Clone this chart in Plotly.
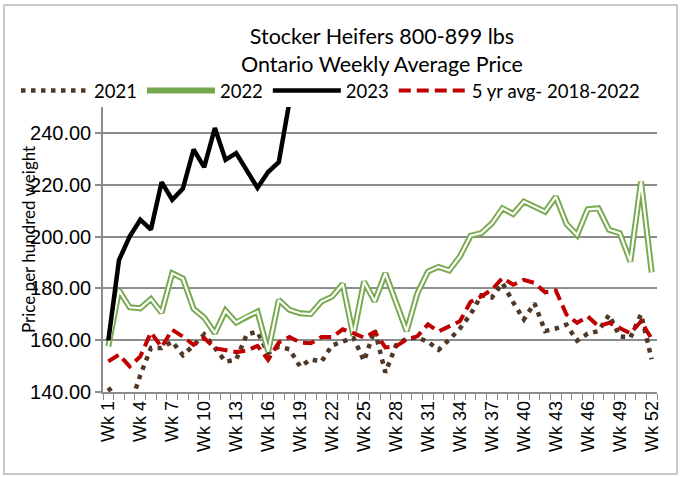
import plotly.graph_objects as go

weeks = list(range(1, 53))
tick_weeks = [1, 4, 7, 10, 13, 16, 19, 22, 25, 28, 31, 34, 37, 40, 43, 46, 49, 52]
tick_labels = ["Wk 1", "Wk 4", "Wk 7", "Wk 10", "Wk 13", "Wk 16", "Wk 19", "Wk 22", "Wk 25",
               "Wk 28", "Wk 31", "Wk 34", "Wk 37", "Wk 40", "Wk 43", "Wk 46", "Wk 49", "Wk 52"]
y_ticks = [140, 160, 180, 200, 220, 240]

price_2021 = [141.7, 136.0, 134.0, 146.5, 157.0, 157.0, 159.5, 154.2, 158.0, 162.2,
              157.0, 151.7, 152.5, 162.3, 163.2, 155.0, 157.5, 156.5, 149.8, 152.6,
              151.7, 158.0, 159.5, 161.0, 152.0, 164.0, 147.5, 158.0, 160.6, 161.0,
              159.4, 156.3, 160.2, 164.5, 170.0, 177.3, 176.5, 182.0, 174.6, 168.0,
              174.2, 163.5, 164.5, 166.0, 159.8, 162.5, 163.5, 169.8, 161.5, 161.0,
              170.0, 152.6]
price_2022 = [157.6, 179.2, 172.7, 172.3, 175.9, 170.6, 185.8, 183.8, 172.1, 168.7,
              162.7, 171.4, 166.8, 169.1, 171.0, 155.6, 175.5, 171.7, 170.4, 170.1,
              174.9, 176.8, 181.7, 161.7, 182.6, 175.0, 185.8, 174.7, 163.5, 178.0,
              186.5, 188.3, 186.9, 192.3, 200.3, 201.3, 205.0, 210.9, 208.7, 213.5,
              211.5, 209.6, 215.4, 204.9, 200.6, 210.5, 210.9, 202.6, 201.3, 190.4,
              221.2, 186.2]
price_2023 = [159.9, 190.9, 200.0, 206.5, 202.7, 221.0, 214.2, 218.5, 233.6, 226.8,
              241.9, 229.6, 232.2, 225.5, 218.8, 224.9, 228.7, 252.0]
avg_5yr = [151.8, 154.4, 149.9, 153.7, 163.0, 157.3, 164.0, 161.4, 158.2, 160.8,
           156.9, 156.3, 155.4, 156.0, 157.8, 152.4, 159.1, 161.2, 159.1, 158.8,
           161.2, 161.2, 164.2, 162.7, 161.0, 163.2, 157.2, 157.6, 160.3, 161.5,
           166.1, 163.4, 165.2, 167.3, 174.8, 176.9, 179.5, 184.0, 181.4, 183.3,
           182.1, 178.5, 179.2, 169.9, 166.7, 169.2, 165.4, 166.7, 164.7, 162.6,
           167.3, 160.5]

W, H = 687, 477
ML, MR, MT, MB = 103, 30, 107, 85
PW, PH = W - ML - MR, H - MT - MB


def px_x(p):
    return (p - ML) / PW


def px_y(p):
    return (H - MB - p) / PH


GRID = "#8c8c8c"
fig = go.Figure()
fig.add_trace(go.Scatter(x=weeks, y=price_2021, mode="lines", name="2021",
                         line=dict(color="#4f3828", width=4.5, dash="4.5px,5.5px")))
fig.add_trace(go.Scatter(x=weeks, y=price_2022, mode="lines", name="2022",
                         line=dict(color="#76a94e", width=6)))
fig.add_trace(go.Scatter(x=weeks, y=price_2022, mode="lines", name="2022 inner",
                         showlegend=False, hoverinfo="skip",
                         line=dict(color="white", width=2.2)))
fig.add_trace(go.Scatter(x=weeks[:len(price_2023)], y=price_2023, mode="lines", name="2023",
                         line=dict(color="black", width=4.5)))
fig.add_trace(go.Scatter(x=weeks, y=avg_5yr, mode="lines", name="5 yr avg- 2018-2022",
                         line=dict(color="#c00000", width=4, dash="12px,6px")))

title_font = dict(family="Lato", size=21.5, color="black")
fig.update_layout(
    width=W, height=H,
    margin=dict(l=ML, r=MR, t=MT, b=MB, autoexpand=False),
    paper_bgcolor="white", plot_bgcolor="white",
    legend=dict(orientation="h", x=px_x(16), xanchor="left", y=px_y(91), yanchor="middle",
                font=dict(family="Lato", size=18.5, color="black"), itemwidth=68,
                bgcolor="rgba(0,0,0,0)", tracegroupgap=0),
    xaxis=dict(range=[0.5, 52.5], tickmode="array", tickvals=tick_weeks, ticktext=tick_labels,
               tickangle=-90, ticks="", showgrid=False, zeroline=False,
               showline=True, linecolor=GRID, linewidth=1.6,
               tickfont=dict(family="Liberation Sans", size=18, color="black"),
               minor=dict(ticks="outside", tick0=0.5, dtick=1, ticklen=6, tickcolor=GRID,
                          tickwidth=1.3, showgrid=False)),
    yaxis=dict(range=[140, 250], tickmode="array", tickvals=y_ticks, tickformat=".2f",
               ticks="outside", ticklen=6, tickcolor=GRID, tickwidth=1.5,
               showgrid=True, gridcolor=GRID, gridwidth=1.6, zeroline=False,
               showline=True, linecolor=GRID, linewidth=1.6,
               tickfont=dict(family="Liberation Sans", size=20, color="black")),
    annotations=[
        dict(text="Stocker Heifers 800-899 lbs<br>Ontario Weekly Average Price",
             showarrow=False, xref="paper", yref="paper",
             x=px_x(382), y=px_y(50), xanchor="center", yanchor="middle", font=title_font),
        dict(text="Price per hundred weight", textangle=-90, showarrow=False,
             xref="paper", yref="paper", x=px_x(28), y=px_y(240),
             xanchor="center", yanchor="middle",
             font=dict(family="Lato", size=17, color="black")),
    ],
    shapes=[dict(type="rect", xref="paper", yref="paper",
                 x0=px_x(4), x1=px_x(677), y0=px_y(474), y1=px_y(5),
                 line=dict(color="#c8c8c8", width=2), layer="below")],
)

fig.write_html("out.html", config={"displayModeBar": False},
               post_script="document.body.style.margin='0';")
